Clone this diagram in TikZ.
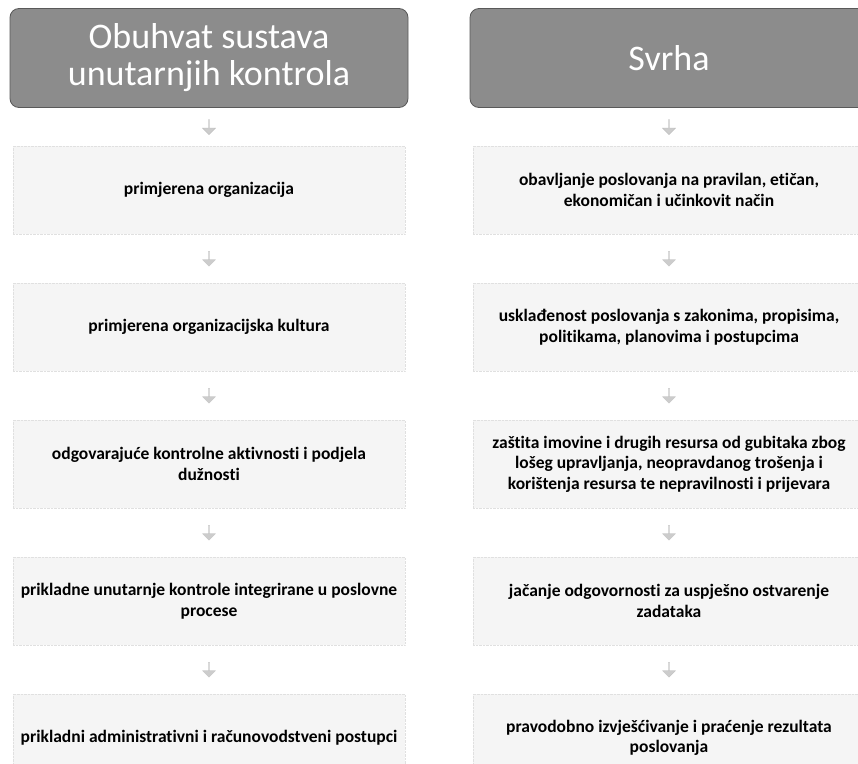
\documentclass[tikz,border=0pt]{standalone}
\usepackage{fontspec}
\setmainfont{Carlito}[Ligatures=NoCommon]
\usetikzlibrary{shapes.arrows,calc}
\begin{document}
\begin{tikzpicture}[x=1pt,y=-1pt,
  hdr/.style={rectangle, rounded corners=9pt, fill=black!45, draw=black!65, line width=0.8pt,
    text=white, font=\fontsize{36}{37}\selectfont, minimum width=398pt, minimum height=99pt,
    align=center, inner sep=0pt},
  itembox/.style={rectangle, fill=black!4, draw=black!12, densely dotted, line width=0.4pt,
    minimum width=392pt, minimum height=88pt, align=center,
    font=\bfseries\fontsize{17.5}{20.5}\selectfont, inner sep=0pt},
  downarr/.style={single arrow, shape border rotate=270, fill=black!20, draw=black!28,
    line width=0.3pt, minimum width=13pt, minimum height=15pt,
    single arrow head extend=2pt, inner sep=0pt}
]
\useasboundingbox (0,0) rectangle (858,763);

% headers
\node[hdr] (hL) at (209,58) {Obuhvat sustava\\unutarnjih kontrola};
\node[hdr] (hR) at (669,58) {Svrha};

% left column
\node[itembox] (L1) at (209,190) {primjerena organizacija};
\node[itembox] (L2) at (209,327) {primjerena organizacijska kultura};
\node[itembox] (L3) at (209,464) {odgovarajuće kontrolne aktivnosti i podjela\\dužnosti};
\node[itembox] (L4) at (209,601) {prikladne unutarnje kontrole integrirane u poslovne\\procese};
\node[itembox] (L5) at (209,738) {prikladni administrativni i računovodstveni postupci};

% right column
\node[itembox] (R1) at (669,190) {obavljanje poslovanja na pravilan, etičan,\\ekonomičan i učinkovit način};
\node[itembox] (R2) at (669,327) {usklađenost poslovanja s zakonima, propisima,\\politikama, planovima i postupcima};
\node[itembox] (R3) at (669,464) {zaštita imovine i drugih resursa od gubitaka zbog\\lošeg upravljanja, neopravdanog trošenja i\\korištenja resursa te nepravilnosti i prijevara};
\node[itembox] (R4) at (669,601) {jačanje odgovornosti za uspješno ostvarenje\\zadataka};
\node[itembox] (R5) at (669,738) {pravodobno izvješćivanje i praćenje rezultata\\poslovanja};

% arrows
\node[downarr] (aL1) at ($(hL.south)!0.5!(L1.north)$) {};
\node[downarr] (aL2) at ($(L1.south)!0.5!(L2.north)$) {};
\node[downarr] (aL3) at ($(L2.south)!0.5!(L3.north)$) {};
\node[downarr] (aL4) at ($(L3.south)!0.5!(L4.north)$) {};
\node[downarr] (aL5) at ($(L4.south)!0.5!(L5.north)$) {};
\node[downarr] (aR1) at ($(hR.south)!0.5!(R1.north)$) {};
\node[downarr] (aR2) at ($(R1.south)!0.5!(R2.north)$) {};
\node[downarr] (aR3) at ($(R2.south)!0.5!(R3.north)$) {};
\node[downarr] (aR4) at ($(R3.south)!0.5!(R4.north)$) {};
\node[downarr] (aR5) at ($(R4.south)!0.5!(R5.north)$) {};
\end{tikzpicture}
\end{document}
